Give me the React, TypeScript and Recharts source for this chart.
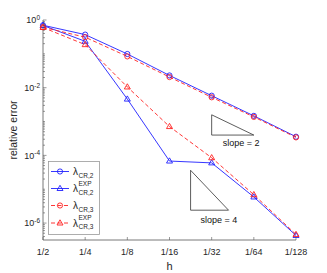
import { ComposedChart, Line, XAxis, YAxis, ReferenceDot } from "recharts";

document.body.style.margin = "0";

// h = 2^-level
const levels = [1, 2, 3, 4, 5, 6, 7];
const hLabels = ["1/2", "1/4", "1/8", "1/16", "1/32", "1/64", "1/128"];

const errCR2 = [0.7, 0.37, 0.099, 0.023, 0.0058, 0.00147, 3.56e-4];
const errCR2Exp = [0.69, 0.235, 0.0046, 6.8e-5, 6.0e-5, 5.9e-6, 4.3e-7];
const errCR3 = [0.61, 0.31, 0.084, 0.0206, 0.0052, 0.00137, 3.4e-4];
const errCR3Exp = [0.6, 0.187, 0.0105, 7.1e-4, 8.5e-5, 6.9e-6, 4.6e-7];

const yLabelExps = [0, -2, -4, -6];
const Y_MIN = 3.16e-7;

// reference slope triangles (closed paths)
const slope2Tri = [
  { k: 5, err: 1.58e-3 },
  { k: 5, err: 3.98e-4 },
  { k: 6, err: 3.98e-4 },
  { k: 5, err: 1.58e-3 },
];
const slope4Tri = [
  { k: 4.5, err: 3.63e-5 },
  { k: 4.5, err: 2.4e-6 },
  { k: 5.4, err: 2.4e-6 },
  { k: 4.5, err: 3.63e-5 },
];
const slopeNotes = [
  { k: 5.7, err: 2.29e-4, text: "slope = 2" },
  { k: 5.17, err: 1.29e-6, text: "slope = 4" },
];

const BLUE = "#2020ff";
const RED = "#ff2020";
const AXIS = "#555";
const TEXT = "#262626";
const FONT = "'Liberation Sans', Arial, sans-serif";

const series = [
  { key: "cr2", sub: "CR,2", sup: "", color: BLUE, dash: undefined, marker: "o" },
  { key: "cr2exp", sub: "CR,2", sup: "EXP", color: BLUE, dash: undefined, marker: "^" },
  { key: "cr3", sub: "CR,3", sup: "", color: RED, dash: "4 2.5", marker: "o" },
  { key: "cr3exp", sub: "CR,3", sup: "EXP", color: RED, dash: "4 2.5", marker: "^" },
];

const data = levels.map((k, i) => ({
  k,
  cr2: errCR2[i],
  cr2exp: errCR2Exp[i],
  cr3: errCR3[i],
  cr3exp: errCR3Exp[i],
}));

// log ticks: 1..9 x 10^e inside the domain
const yTicks: number[] = [];
for (let e = -7; e <= 0; e++) {
  for (let m = 1; m <= 9; m++) {
    const v = m * Math.pow(10, e);
    if (v >= Y_MIN && v <= 1.0000001) yTicks.push(v);
  }
}

const W = 327;
const H = 273;
const PL = 43;
const PR = 296;
const PT = 20;
const PB = 240;

function Marker({ cx, cy, kind, color }: any) {
  if (cx == null || cy == null) return null;
  if (kind === "o") {
    return <circle cx={cx} cy={cy} r={2.6} fill="none" stroke={color} strokeWidth={0.9} />;
  }
  return (
    <path
      d={`M${cx},${cy - 3.2}L${cx + 3},${cy + 2}L${cx - 3},${cy + 2}Z`}
      fill="none"
      stroke={color}
      strokeWidth={0.9}
    />
  );
}

function tickInfo(v: number) {
  const lg = Math.log10(v);
  const e = Math.round(lg);
  const labeled = Math.abs(lg - e) < 1e-6 && yLabelExps.includes(e);
  return { e, labeled };
}

function LeftTick({ y, payload }: any) {
  const { e, labeled } = tickInfo(payload.value);
  return (
    <g>
      <line x1={PL} x2={PL + (labeled ? 3.5 : 2)} y1={y} y2={y} stroke={AXIS} strokeWidth={0.6} />
      {labeled && (
        <text x={PL - 3} y={y} dy="0.35em" textAnchor="end" fontSize={9} fill={TEXT} fontFamily={FONT}>
          10
          <tspan dy="-0.5em" fontSize={6.5}>
            {e}
          </tspan>
        </text>
      )}
    </g>
  );
}

function RightTick({ y, payload }: any) {
  const { labeled } = tickInfo(payload.value);
  return <line x1={PR} x2={PR - (labeled ? 3.5 : 2)} y1={y} y2={y} stroke={AXIS} strokeWidth={0.6} />;
}

function BottomTick({ x, payload }: any) {
  return (
    <g>
      <line x1={x} x2={x} y1={PB} y2={PB - 3} stroke={AXIS} strokeWidth={0.6} />
      <text x={x} y={PB + 12} dy="0.35em" textAnchor="middle" fontSize={9} fill={TEXT} fontFamily={FONT}>
        {hLabels[levels.indexOf(payload.value)]}
      </text>
    </g>
  );
}

function TopTick({ x }: any) {
  return <line x1={x} x2={x} y1={PT} y2={PT + 3} stroke={AXIS} strokeWidth={0.6} />;
}

function YTitle() {
  return (
    <text
      transform={`translate(13,${(PT + PB) / 2}) rotate(-90)`}
      textAnchor="middle"
      dy="0.35em"
      fontSize={10.5}
      fill={TEXT}
      fontFamily={FONT}
    >
      relative error
    </text>
  );
}

function LegendBox() {
  const rows = [10.5, 27.5, 44.5, 62];
  return (
    <svg
      width={52}
      height={74}
      style={{ position: "absolute", left: 47.5, top: 160.5, overflow: "visible" }}
    >
      <rect x={0.5} y={0.5} width={51} height={73} fill="#fff" stroke="#999" strokeWidth={0.8} />
      {series.map((s, i) => (
        <g key={s.key}>
          <line
            x1={3}
            x2={21}
            y1={rows[i]}
            y2={rows[i]}
            stroke={s.color}
            strokeWidth={0.9}
            strokeDasharray={s.dash}
          />
          <Marker cx={12} cy={rows[i]} kind={s.marker} color={s.color} />
          <text x={25} y={rows[i]} dy="0.35em" fontSize={10} fill={TEXT} fontFamily={FONT}>
            λ
          </text>
          {s.sup && (
            <text x={30.5} y={rows[i] - 3} fontSize={6.5} fill={TEXT} fontFamily={FONT}>
              {s.sup}
            </text>
          )}
          <text x={30.5} y={rows[i] + 6} fontSize={6.5} fill={TEXT} fontFamily={FONT}>
            {s.sub}
          </text>
        </g>
      ))}
    </svg>
  );
}

export default function App() {
  return (
    <div style={{ position: "relative", width: W, height: H, background: "#fff" }}>
      <ComposedChart
        width={W}
        height={H}
        data={data}
        margin={{ top: PT, right: W - PR, bottom: 0, left: 0 }}
      >
        <XAxis
          dataKey="k"
          type="number"
          domain={[1, 7]}
          ticks={levels}
          height={H - PB}
          tickSize={0}
          tickLine={false}
          tick={<BottomTick />}
          axisLine={{ stroke: AXIS, strokeWidth: 0.8 }}
          label={{ value: "h", position: "insideBottom", offset: 3, fontSize: 11, fill: TEXT, fontFamily: FONT }}
        />
        <XAxis
          xAxisId="top"
          orientation="top"
          dataKey="k"
          type="number"
          domain={[1, 7]}
          ticks={levels}
          height={0}
          tickSize={0}
          tickLine={false}
          tick={<TopTick />}
          axisLine={{ stroke: AXIS, strokeWidth: 0.8 }}
        />
        <YAxis
          type="number"
          scale="log"
          domain={[Y_MIN, 1]}
          allowDataOverflow
          ticks={yTicks}
          interval={0}
          width={PL}
          tickSize={0}
          tickLine={false}
          tick={<LeftTick />}
          axisLine={{ stroke: AXIS, strokeWidth: 0.8 }}
          label={{ content: () => <YTitle /> }}
        />
        <YAxis
          yAxisId="right"
          orientation="right"
          type="number"
          scale="log"
          domain={[Y_MIN, 1]}
          allowDataOverflow
          ticks={yTicks}
          interval={0}
          width={0}
          tickSize={0}
          tickLine={false}
          tick={<RightTick />}
          axisLine={{ stroke: AXIS, strokeWidth: 0.8 }}
        />
        <Line
          data={slope2Tri}
          dataKey="err"
          stroke="#333"
          strokeWidth={0.8}
          dot={false}
          isAnimationActive={false}
          legendType="none"
        />
        <Line
          data={slope4Tri}
          dataKey="err"
          stroke="#333"
          strokeWidth={0.8}
          dot={false}
          isAnimationActive={false}
          legendType="none"
        />
        {slopeNotes.map((n) => (
          <ReferenceDot
            key={n.text}
            x={n.k}
            y={n.err}
            r={0}
            fill="none"
            stroke="none"
            label={{ value: n.text, position: "center", fontSize: 9, fill: "#111", fontFamily: FONT }}
          />
        ))}
        {series.map((s) => (
          <Line
            key={s.key}
            dataKey={s.key}
            stroke={s.color}
            strokeWidth={0.9}
            strokeDasharray={s.dash}
            dot={(p: any) => (
              <Marker key={`${s.key}-${p.index}`} cx={p.cx} cy={p.cy} kind={s.marker} color={s.color} />
            )}
            activeDot={false}
            isAnimationActive={false}
          />
        ))}
      </ComposedChart>
      <LegendBox />
    </div>
  );
}
